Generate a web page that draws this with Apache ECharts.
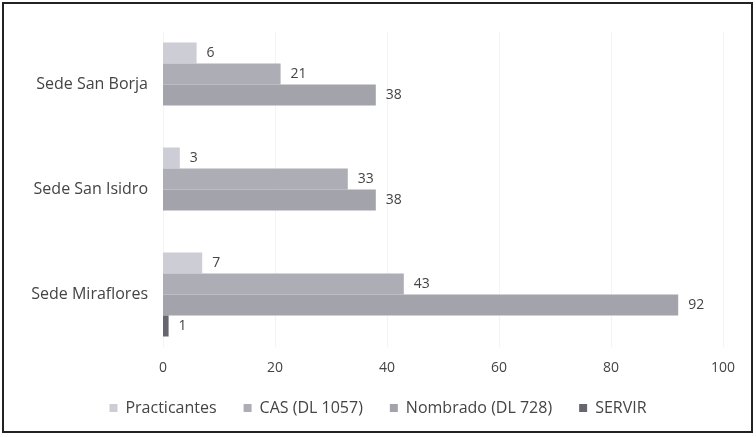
<!DOCTYPE html>
<html><head><meta charset="utf-8">
<script src="https://cdn.jsdelivr.net/npm/echarts@6/dist/echarts.min.js"></script>
<style>html,body{margin:0;padding:0;background:#fff}#c{width:756px;height:437px}</style>
</head><body><div id="c"></div>
<script>
const categories = ['Sede San Borja', 'Sede San Isidro', 'Sede Miraflores'];
const seriesNames = ['Practicantes', 'CAS (DL 1057)', 'Nombrado (DL 728)', 'SERVIR'];
const practicantes = [6, 3, 7];
const cas = [21, 33, 43];
const nombrado = [38, 38, 92];
const servir = [null, null, 1];
const xTicks = [0, 20, 40, 60, 80, 100];
const colors = ['#cdcdd6', '#adadb5', '#a3a3ab', '#66676e'];

const font = '"Open Sans", "Noto Sans", sans-serif';
const chart = echarts.init(document.getElementById('c'));
const dataSets = [practicantes, cas, nombrado, servir];
chart.setOption({
  animation: false,
  textStyle: {fontFamily: font},
  grid: {left: 163, right: 33, top: 32, bottom: 90},
  legend: {
    left: 'center', top: 395, itemWidth: 8, itemHeight: 8, itemGap: 27,
    textStyle: {fontSize: 16, color: '#444', fontFamily: font, padding: [0, 0, 0, 3]},
    data: seriesNames.map((n, i) => ({name: n, icon: 'rect'}))
  },
  xAxis: {
    type: 'value', min: 0, max: 100, interval: 20,
    axisLine: {show: false}, axisTick: {show: false},
    splitLine: {show: true, lineStyle: {color: '#f4f4f4'}},
    axisLabel: {color: '#444', fontSize: 14, margin: 14,
      formatter: v => xTicks.includes(v) ? String(v) : ''}
  },
  yAxis: {
    type: 'category', data: categories, inverse: true,
    axisLine: {show: false}, axisTick: {show: false},
    axisLabel: {color: '#444', fontSize: 16, margin: 15}
  },
  series: dataSets.map((d, i) => ({
    name: seriesNames[i], type: 'bar', data: d,
    barGap: '0%', barCategoryGap: '20%',
    itemStyle: {color: colors[i]},
    label: {show: true, position: 'right', color: '#444', fontSize: 14, distance: 10,
      formatter: p => p.value == null ? '' : String(p.value)}
  })),
  graphic: [{
    type: 'rect', shape: {x: 3, y: 3, width: 749, height: 429},
    style: {fill: 'none', stroke: '#222', lineWidth: 2}, z: 100
  }]
});
</script></body></html>
